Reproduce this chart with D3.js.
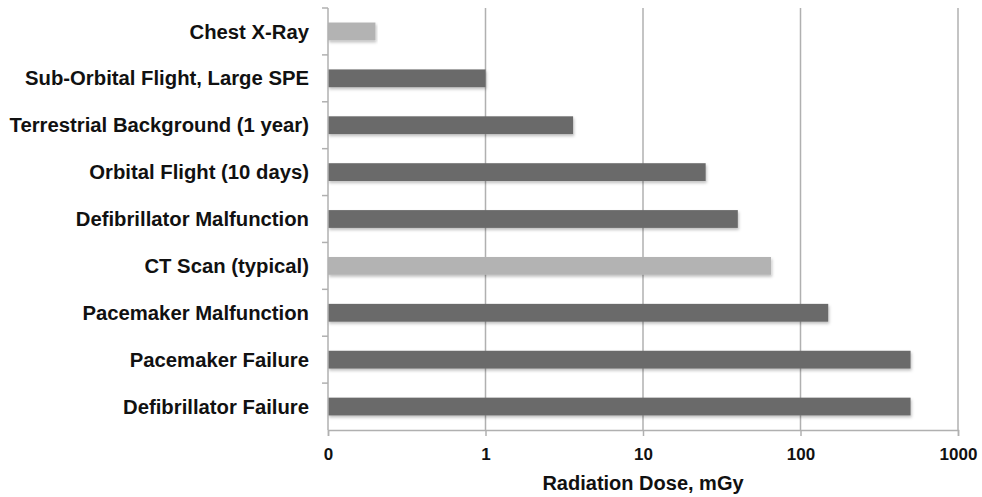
<!DOCTYPE html>
<html>
<head>
<meta charset="utf-8">
<script src="https://cdn.jsdelivr.net/npm/d3@7.8.5/dist/d3.min.js"></script>
<style>
  body { margin: 0; background: #fff; }
  text { font-family: "Liberation Sans", Arial, sans-serif; font-weight: bold; fill: #111; }
</style>
</head>
<body>
<div id="chart"></div>
<script>
// data
const categories = [
  'Chest X-Ray',
  'Sub-Orbital Flight, Large SPE',
  'Terrestrial Background (1 year)',
  'Orbital Flight (10 days)',
  'Defibrillator Malfunction',
  'CT Scan (typical)',
  'Pacemaker Malfunction',
  'Pacemaker Failure',
  'Defibrillator Failure'
];
const doses = [0.2, 1, 3.6, 25, 40, 65, 150, 500, 500];
const highlighted = [true, false, false, false, false, true, false, false, false];
const tickValues = [0.1, 1, 10, 100, 1000];
const tickLabels = ['0', '1', '10', '100', '1000'];

const width = 982, height = 497;
const margin = { top: 8, right: 24, bottom: 67, left: 328 };
const innerW = width - margin.left - margin.right;
const innerH = height - margin.top - margin.bottom;

const svg = d3.select('#chart').append('svg')
  .attr('width', width)
  .attr('height', height);

// soft shadow under bars
const defs = svg.append('defs');
const f = defs.append('filter').attr('id', 'shadow')
  .attr('x', '-5%').attr('y', '-30%').attr('width', '110%').attr('height', '170%');
f.append('feDropShadow')
  .attr('dx', 1).attr('dy', 2).attr('stdDeviation', 1.5)
  .attr('flood-color', '#000').attr('flood-opacity', 0.25);

const g = svg.append('g').attr('transform', `translate(${margin.left},${margin.top})`);

const x = d3.scaleLog().domain([0.1, 1000]).range([0, innerW]);
const y = d3.scaleBand().domain(categories).range([0, innerH]).paddingInner(0.62).paddingOuter(0.31);
const yb = d3.scaleBand().domain(categories).range([0, innerH]);

// gridlines
g.selectAll('.grid')
  .data(tickValues.slice(1))
  .enter().append('line')
  .attr('class', 'grid')
  .attr('x1', d => x(d)).attr('x2', d => x(d))
  .attr('y1', 0).attr('y2', innerH)
  .style('stroke', '#b0b0b0')
  .style('stroke-width', 1.5);

// bars
g.selectAll('.bar')
  .data(categories)
  .enter().append('rect')
  .attr('class', 'bar')
  .attr('x', 0)
  .attr('y', d => y(d))
  .attr('width', (d, i) => x(doses[i]) - x(0.1))
  .attr('height', y.bandwidth())
  .attr('filter', 'url(#shadow)')
  .style('fill', (d, i) => highlighted[i] ? '#b3b3b3' : '#6b6b6b');

// x axis
const xAxis = g.append('g')
  .attr('transform', `translate(0,${innerH})`)
  .call(d3.axisBottom(x).tickValues(tickValues).tickFormat((d, i) => tickLabels[i]).tickSize(6).tickPadding(12));
xAxis.select('.domain').style('stroke', '#b0b0b0').style('stroke-width', 1.5);
xAxis.selectAll('.tick line').style('stroke', '#b0b0b0').style('stroke-width', 1.5);
xAxis.selectAll('.tick text').style('font-size', '17px').style('fill', '#111');

// y axis: ticks at band boundaries
const yAxis = g.append('g');
yAxis.append('line')
  .attr('x1', 0).attr('x2', 0).attr('y1', 0).attr('y2', innerH)
  .style('stroke', '#b0b0b0').style('stroke-width', 1.5);
yAxis.selectAll('.ytick')
  .data(categories)
  .enter().append('line')
  .attr('x1', -6).attr('x2', 0)
  .attr('y1', d => yb(d)).attr('y2', d => yb(d))
  .style('stroke', '#b0b0b0').style('stroke-width', 1.5);
yAxis.selectAll('.ylabel')
  .data(categories)
  .enter().append('text')
  .attr('x', -19)
  .attr('y', d => yb(d) + yb.bandwidth() / 2)
  .attr('dy', '0.35em')
  .attr('text-anchor', 'end')
  .style('font-size', '20.3px')
  .text(d => d);

// axis title
g.append('text')
  .attr('x', x(10))
  .attr('y', innerH + 60)
  .attr('text-anchor', 'middle')
  .style('font-size', '20px')
  .text('Radiation Dose, mGy');
</script>
</body>
</html>
